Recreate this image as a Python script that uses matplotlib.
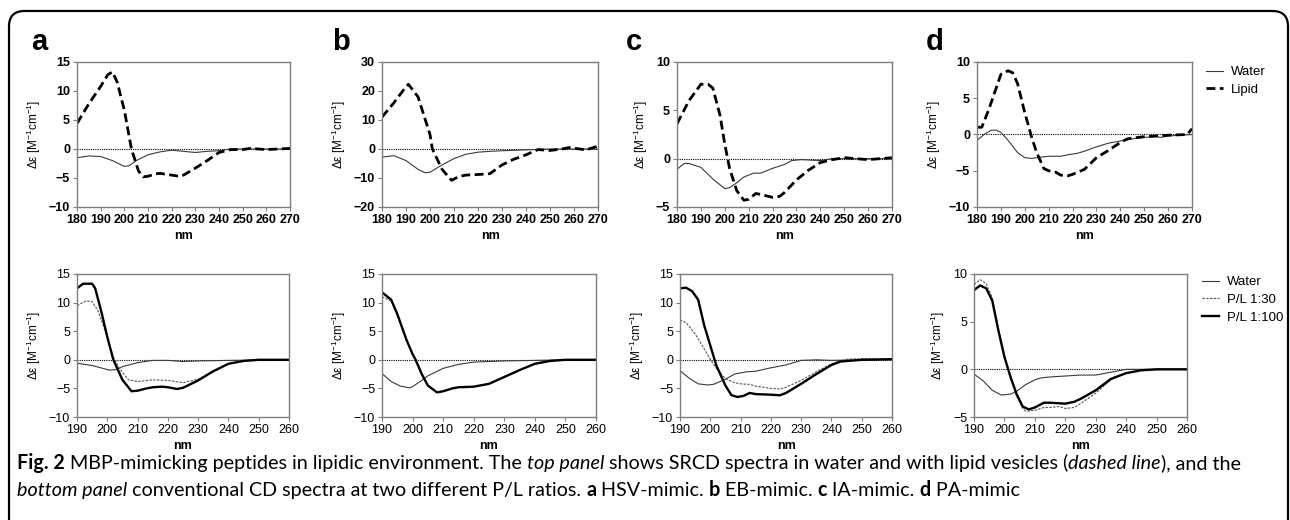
import matplotlib
matplotlib.use("Agg")
import matplotlib.pyplot as plt
from matplotlib.patches import FancyBboxPatch
from matplotlib.lines import Line2D

plt.rcParams['font.family'] = ['Liberation Sans', 'DejaVu Sans']
plt.rcParams['mathtext.default'] = 'regular'

# ---- top panel: SRCD spectra (water / lipid) ----
top_a_x_water = [180, 185, 190, 195, 200, 202, 205, 210, 215, 220, 225, 230, 235, 240, 245, 250, 260, 270]
top_a_water = [-1.5, -1.2, -1.3, -2.0, -3.0, -2.9, -2.0, -1.0, -0.5, -0.2, -0.4, -0.6, -0.4, -0.3, 0.0, 0.0, 0.0, 0.0]
top_a_x_lipid = [180, 185, 190, 193, 195, 197, 200, 203, 206, 208, 210, 213, 215, 220, 223, 225, 230, 235, 240, 245, 250, 253, 260, 270]
top_a_lipid = [4.4, 7.8, 10.8, 12.8, 13.3, 11.5, 6.7, 0.0, -3.8, -4.8, -4.7, -4.3, -4.2, -4.5, -4.7, -4.5, -3.3, -2.0, -0.6, -0.1, -0.1, 0.1, -0.1, 0.1]

top_b_x_water = [180, 185, 190, 195, 198, 200, 205, 210, 215, 220, 225, 230, 240, 250, 270]
top_b_water = [-2.8, -2.3, -4.0, -7.0, -8.2, -8.0, -5.5, -3.3, -1.8, -1.1, -0.8, -0.6, -0.3, 0.0, 0.0]
top_b_x_lipid = [180, 185, 190, 191, 195, 200, 201, 205, 209, 212, 215, 220, 225, 230, 235, 240, 245, 250, 255, 258, 265, 270]
top_b_lipid = [11.0, 16.0, 21.5, 22.3, 18.0, 5.0, 0.0, -7.0, -10.8, -9.5, -9.0, -8.8, -8.5, -5.5, -3.5, -2.0, -0.2, -0.5, 0.0, 0.5, -0.3, 1.0]

top_c_x_water = [180, 183, 185, 190, 195, 200, 202, 205, 208, 212, 215, 220, 225, 228, 232, 240, 245, 270]
top_c_water = [-1.1, -0.5, -0.5, -0.9, -2.1, -3.1, -3.0, -2.5, -1.9, -1.5, -1.5, -1.0, -0.6, -0.2, -0.1, -0.2, 0.0, 0.0]
top_c_x_lipid = [180, 185, 190, 193, 195, 198, 200, 202, 205, 208, 210, 213, 215, 220, 223, 225, 230, 235, 240, 245, 250, 260, 270]
top_c_lipid = [3.6, 6.0, 7.7, 7.7, 7.3, 4.5, 1.5, -1.0, -3.3, -4.3, -4.2, -3.6, -3.7, -4.0, -3.9, -3.5, -2.2, -1.2, -0.4, -0.1, 0.1, -0.1, 0.1]

top_d_x_water = [180, 183, 186, 188, 190, 193, 197, 200, 203, 205, 210, 215, 218, 222, 225, 230, 235, 240, 245, 250, 255, 257, 260, 270]
top_d_water = [-0.8, 0.0, 0.6, 0.6, 0.3, -0.8, -2.5, -3.2, -3.3, -3.2, -3.0, -3.0, -2.8, -2.6, -2.3, -1.7, -1.2, -0.9, -0.6, -0.4, -0.3, -0.4, -0.2, 0.0]
top_d_x_lipid = [180, 182, 185, 190, 193, 195, 197, 200, 203, 205, 208, 210, 213, 215, 218, 220, 225, 230, 235, 240, 243, 245, 250, 255, 260, 268, 270]
top_d_lipid = [1.0, 1.0, 3.5, 8.3, 8.8, 8.5, 7.0, 3.0, -0.5, -2.5, -4.7, -5.0, -5.2, -5.6, -5.7, -5.5, -4.8, -3.2, -2.2, -1.1, -0.6, -0.5, -0.3, -0.2, -0.1, 0.0, 0.8]

# ---- bottom panel: conventional CD at two P/L ratios ----
bot_a_x_water = [190, 195, 200, 201, 203, 205, 210, 215, 220, 225, 230, 240, 260]
bot_a_water = [-0.6, -1.0, -1.7, -1.8, -1.7, -1.2, -0.5, -0.1, -0.1, -0.3, -0.2, -0.1, 0.0]
bot_a_x_pl30 = [190, 193, 195, 197, 200, 202, 204, 207, 210, 215, 220, 225, 230, 235, 240, 245, 250, 260]
bot_a_pl30 = [9.5, 10.3, 10.2, 8.5, 4.0, 0.5, -1.5, -3.5, -3.8, -3.5, -3.6, -4.0, -3.4, -2.0, -0.7, -0.2, 0.0, 0.0]
bot_a_x_pl100 = [190, 192, 195, 196, 198, 200, 202, 205, 208, 210, 213, 215, 218, 220, 223, 225, 230, 235, 240, 245, 250, 260]
bot_a_pl100 = [12.5, 13.3, 13.3, 12.5, 8.5, 4.0, 0.0, -3.5, -5.5, -5.4, -5.0, -4.8, -4.7, -4.8, -5.1, -4.9, -3.6, -2.0, -0.7, -0.2, 0.0, 0.0]

bot_b_x_water = [190, 193, 196, 199, 200, 203, 205, 210, 215, 220, 230, 240, 250, 260]
bot_b_water = [-2.4, -3.8, -4.6, -4.9, -4.7, -3.6, -2.8, -1.5, -0.8, -0.4, -0.2, -0.1, 0.0, 0.0]
bot_b_x_pl30 = [190, 193, 195, 198, 200, 201, 203, 205, 208, 210, 213, 215, 220, 225, 230, 235, 240, 245, 250, 260]
bot_b_pl30 = [11.0, 10.3, 8.0, 3.5, 1.0, 0.0, -2.5, -4.5, -5.7, -5.5, -5.0, -4.8, -4.7, -4.2, -3.0, -1.8, -0.7, -0.2, 0.0, 0.0]
bot_b_x_pl100 = [190, 193, 195, 198, 200, 201, 203, 205, 208, 210, 213, 215, 220, 225, 230, 235, 240, 245, 250, 260]
bot_b_pl100 = [11.8, 10.5, 8.0, 3.5, 1.0, 0.0, -2.5, -4.5, -5.7, -5.5, -5.0, -4.8, -4.7, -4.2, -3.0, -1.8, -0.7, -0.2, 0.0, 0.0]

bot_c_x_water = [190, 193, 196, 199, 201, 205, 208, 212, 215, 220, 225, 230, 235, 240, 250, 260]
bot_c_water = [-1.9, -3.2, -4.2, -4.4, -4.3, -3.4, -2.5, -2.1, -2.0, -1.4, -0.9, -0.1, 0.0, -0.1, 0.0, 0.1]
bot_c_x_pl30 = [190, 192, 195, 197, 200, 202, 205, 208, 210, 213, 215, 220, 223, 225, 230, 235, 240, 245, 250, 260]
bot_c_pl30 = [7.0, 6.5, 4.5, 2.8, 0.1, -1.5, -3.3, -4.0, -4.2, -4.3, -4.6, -5.0, -5.1, -4.8, -3.6, -2.1, -0.7, 0.1, 0.2, 0.1]
bot_c_x_pl100 = [190, 192, 194, 196, 198, 200, 202, 205, 207, 209, 211, 213, 215, 220, 223, 225, 230, 235, 240, 243, 250, 260]
bot_c_pl100 = [12.5, 12.6, 12.0, 10.5, 6.0, 2.5, -1.0, -4.5, -6.2, -6.5, -6.3, -5.8, -6.0, -6.1, -6.2, -5.8, -4.2, -2.5, -0.9, -0.3, 0.0, 0.1]

bot_d_x_water = [190, 193, 196, 199, 202, 204, 207, 210, 212, 215, 220, 225, 230, 235, 240, 250, 260]
bot_d_water = [-0.5, -1.2, -2.2, -2.7, -2.6, -2.3, -1.6, -1.1, -0.9, -0.8, -0.7, -0.6, -0.6, -0.3, 0.0, 0.0, 0.0]
bot_d_x_pl30 = [190, 192, 194, 196, 198, 200, 202, 204, 206, 207, 210, 213, 215, 218, 220, 223, 225, 230, 235, 240, 245, 250, 260]
bot_d_pl30 = [8.9, 9.4, 9.0, 7.5, 4.3, 1.5, -0.8, -2.8, -4.1, -4.4, -4.3, -4.0, -4.0, -3.9, -4.1, -4.0, -3.6, -2.5, -1.1, -0.4, -0.1, 0.0, 0.0]
bot_d_x_pl100 = [190, 192, 194, 196, 198, 200, 202, 204, 206, 208, 210, 213, 215, 220, 223, 225, 230, 235, 240, 245, 250, 260]
bot_d_pl100 = [8.3, 8.8, 8.5, 7.2, 4.1, 1.3, -0.8, -2.6, -3.9, -4.2, -4.0, -3.5, -3.5, -3.6, -3.4, -3.1, -2.2, -1.0, -0.4, -0.1, 0.0, 0.0]

top_yticks = [[-10, -5, 0, 5, 10, 15], [-20, -10, 0, 10, 20, 30], [-5, 0, 5, 10], [-10, -5, 0, 5, 10]]
bot_yticks = [[-10, -5, 0, 5, 10, 15], [-10, -5, 0, 5, 10, 15], [-10, -5, 0, 5, 10, 15], [-5, 0, 5, 10]]
top_xticks = list(range(180, 271, 10))
bot_xticks = list(range(190, 261, 10))
panel_letters = ['a', 'b', 'c', 'd']

W, H = 1290, 520
fig = plt.figure(figsize=(W / 100, H / 100), dpi=100)

def px_axes(x0, y0, x1, y1):
    # pixel box (top-left origin) -> figure axes
    return fig.add_axes([x0 / W, 1 - y1 / H, (x1 - x0) / W, (y1 - y0) / H])

# outer rounded frame (runs off the bottom/right like the page crop)
frame = FancyBboxPatch((9 / W, -0.1), 1279 / W, (H - 11) / H + 0.1,
                       boxstyle="round,pad=0,rounding_size=0.012", transform=fig.transFigure,
                       fill=False, ec='black', lw=1.6, mutation_aspect=W / H)
fig.patches.append(frame)

top_boxes = [(77, 62, 290, 207), (382, 62, 598, 207), (677, 62, 892, 207), (977, 62, 1192, 207)]
bot_boxes = [(77, 274, 289, 417), (382, 274, 596, 417), (680, 274, 892, 417), (974, 274, 1187, 417)]
letter_x = [31, 332, 626, 926]

water_kw = dict(color='#3a3a3a', lw=0.8)
lipid_kw = dict(color='black', lw=2.0, dashes=(3.2, 1.6))
pl30_kw = dict(color='#555555', lw=0.8, dashes=(2.2, 1.2))
pl100_kw = dict(color='black', lw=1.7)

def style(ax, xt, yt, bold):
    ax.set_xlim(xt[0], xt[-1])
    ax.set_ylim(yt[0], yt[-1])
    ax.set_xticks(xt)
    ax.set_yticks(yt)
    for s in ax.spines.values():
        s.set_color('#7f7f7f')
        s.set_linewidth(1.0)
    ax.tick_params(direction='out', length=3, width=0.8, color='#7f7f7f', labelsize=9, pad=2)
    for lab in ax.get_xticklabels() + ax.get_yticklabels():
        lab.set_fontweight('bold' if bold else 'normal')
    ax.axhline(0, color='black', lw=0.8, ls=(0, (1, 1)), zorder=1)
    ax.set_xlabel('nm', fontsize=9, fontweight='bold', labelpad=3)
    ax.set_ylabel(r'$\Delta\varepsilon$ [M$^{-1}$cm$^{-1}$]', fontsize=8.5, labelpad=4)

top_data = [(top_a_x_water, top_a_water, top_a_x_lipid, top_a_lipid),
            (top_b_x_water, top_b_water, top_b_x_lipid, top_b_lipid),
            (top_c_x_water, top_c_water, top_c_x_lipid, top_c_lipid),
            (top_d_x_water, top_d_water, top_d_x_lipid, top_d_lipid)]
bot_data = [(bot_a_x_water, bot_a_water, bot_a_x_pl30, bot_a_pl30, bot_a_x_pl100, bot_a_pl100),
            (bot_b_x_water, bot_b_water, bot_b_x_pl30, bot_b_pl30, bot_b_x_pl100, bot_b_pl100),
            (bot_c_x_water, bot_c_water, bot_c_x_pl30, bot_c_pl30, bot_c_x_pl100, bot_c_pl100),
            (bot_d_x_water, bot_d_water, bot_d_x_pl30, bot_d_pl30, bot_d_x_pl100, bot_d_pl100)]

for i in range(4):
    ax = px_axes(*top_boxes[i])
    xw, yw, xl, yl = top_data[i]
    ax.plot(xw, yw, **water_kw)
    ax.plot(xl, yl, **lipid_kw)
    style(ax, top_xticks, top_yticks[i], True)
    fig.text(letter_x[i] / W, 1 - 50 / H, panel_letters[i], fontsize=21, fontweight='bold', va='baseline')

    ax = px_axes(*bot_boxes[i])
    xw, yw, x30, y30, x100, y100 = bot_data[i]
    ax.plot(xw, yw, **water_kw)
    ax.plot(x30, y30, **pl30_kw)
    ax.plot(x100, y100, **pl100_kw)
    style(ax, bot_xticks, bot_yticks[i], False)

# legends
leg_kw = dict(loc='upper left', frameon=False, fontsize=9.5, handlelength=1.3, handletextpad=0.6,
              labelspacing=0.42, borderaxespad=0, borderpad=0)
h_top = [Line2D([], [], **water_kw), Line2D([], [], **lipid_kw)]
fig.legend(h_top, ['Water', 'Lipid'], bbox_to_anchor=(1206 / W, 1 - 66 / H), **leg_kw)
h_bot = [Line2D([], [], **water_kw), Line2D([], [], **pl30_kw), Line2D([], [], **pl100_kw)]
fig.legend(h_bot, ['Water', 'P/L 1:30', 'P/L 1:100'], bbox_to_anchor=(1202 / W, 1 - 276 / H), **leg_kw)

# caption with mixed bold / italic runs
cap_font = ['Lato', 'DejaVu Sans']
cap_size = 14.2
line1 = [("Fig. 2", 'bold', 'normal'),
         (" MBP-mimicking peptides in lipidic environment. The ", 'normal', 'normal'),
         ("top panel", 'normal', 'italic'),
         (" shows SRCD spectra in water and with lipid vesicles (", 'normal', 'normal'),
         ("dashed line", 'normal', 'italic'),
         ("), and the", 'normal', 'normal')]
line2 = [("bottom panel", 'normal', 'italic'),
         (" conventional CD spectra at two different P/L ratios. ", 'normal', 'normal'),
         ("a", 'bold', 'normal'), (" HSV-mimic. ", 'normal', 'normal'),
         ("b", 'bold', 'normal'), (" EB-mimic. ", 'normal', 'normal'),
         ("c", 'bold', 'normal'), (" IA-mimic. ", 'normal', 'normal'),
         ("d", 'bold', 'normal'), (" PA-mimic", 'normal', 'normal')]

renderer = fig.canvas.get_renderer()
for runs, ybase in [(line1, 469), (line2, 496)]:
    x = 17
    for txt, w, st in runs:
        t = fig.text(x / W, 1 - ybase / H, txt, family=cap_font, fontsize=cap_size,
                     fontweight=w, fontstyle=st, va='baseline', ha='left')
        x += t.get_window_extent(renderer).width

fig.savefig('out.png', dpi=100)
